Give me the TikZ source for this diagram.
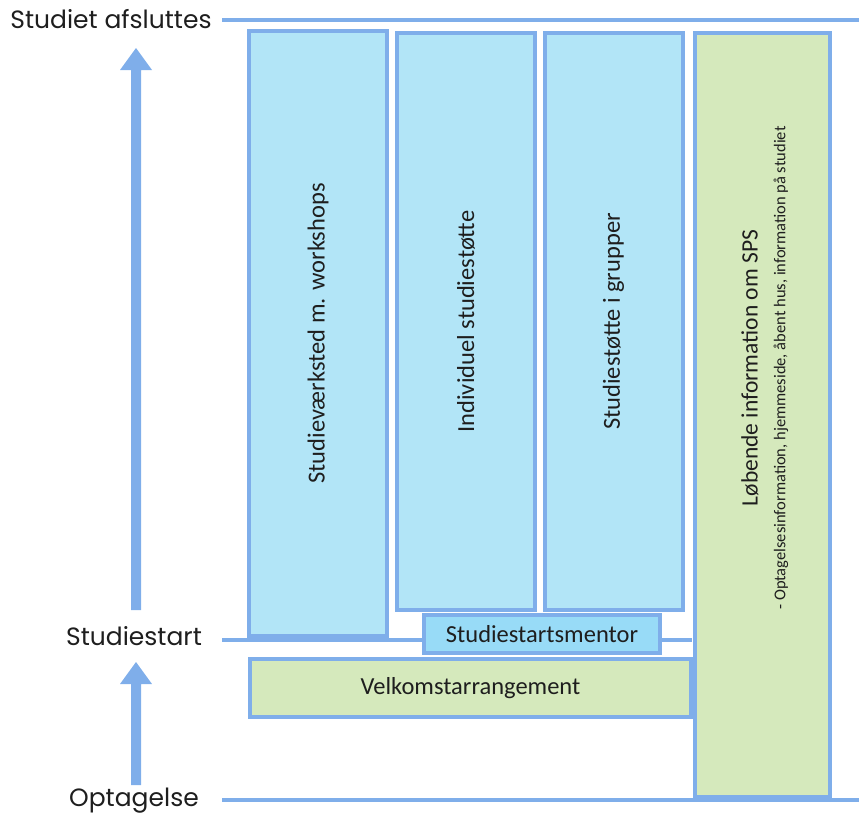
\documentclass[tikz,border=0pt]{standalone}
\usepackage{fontspec}
\setmainfont{Carlito}
\newfontfamily\labelfont{Poppins}
\definecolor{edgeblue}{RGB}{127,174,234}
\definecolor{fillblue}{RGB}{178,229,247}
\definecolor{mentorblue}{RGB}{152,219,247}
\definecolor{fillgreen}{RGB}{213,233,188}
\definecolor{txt}{RGB}{30,30,30}
\begin{document}
\begin{tikzpicture}[x=1pt,y=-1pt,
  box/.style={draw=edgeblue,line width=4pt,inner sep=0pt},
  bluebox/.style={box,fill=fillblue},
  greenbox/.style={box,fill=fillgreen},
  mentorbox/.style={box,fill=mentorblue},
  boxtext/.style={text=txt,font=\fontsize{24.5}{28}\selectfont,inner sep=0pt},
  vtext/.style={boxtext,rotate=90},
  timeline/.style={draw=edgeblue,line width=4.5pt},
  timelabel/.style={text=txt,font=\labelfont\fontsize{25}{29}\selectfont,inner sep=0pt},
  bigarrow/.style={fill=edgeblue,draw=none}
]
\useasboundingbox (0,0) rectangle (859,822);
% time lines
\coordinate (t1) at (222,20);  \coordinate (t2) at (859,20);
\coordinate (s1) at (222,640); \coordinate (s2) at (692,640);
\coordinate (o1) at (222,800); \coordinate (o2) at (859,800);
\draw[timeline] (t1) -- (t2);
\draw[timeline] (s1) -- (s2);
\draw[timeline] (o1) -- (o2);
% labels
\node[timelabel,anchor=base] (lend) at (111,28) {Studiet afsluttes};
\node[timelabel,anchor=base] (lstart) at (134,645) {Studiestart};
\node[timelabel,anchor=base] (lopt) at (134,806) {Optagelse};
% arrows
\fill[bigarrow] (131,610) -- (131,70) -- (120,70) -- (136,48) -- (152,70) -- (141,70) -- (141,610) -- cycle;
\fill[bigarrow] (131,785) -- (131,684) -- (120,684) -- (136,662) -- (152,684) -- (141,684) -- (141,785) -- cycle;
% boxes
\node[bluebox,minimum width=138pt,minimum height=605pt] (b1) at (318,333.5) {};
\node[bluebox,minimum width=138pt,minimum height=577pt] (b2) at (466,321.5) {};
\node[bluebox,minimum width=138pt,minimum height=577pt] (b3) at (613.5,321.5) {};
\node[greenbox,minimum width=135pt,minimum height=764pt] (b4) at (762.5,415) {};
\node[mentorbox,minimum width=236pt,minimum height=38pt] (m) at (542,634) {};
\node[greenbox,minimum width=441pt,minimum height=58pt] (v) at (470.5,688) {};
% texts
\node[vtext] (b1t) at (b1.center) {Studieværksted m. workshops};
\node[vtext] (b2t) at (b2.center) {Individuel studiestøtte};
\node[vtext] (b3t) at (b3.center) {Studiestøtte i grupper};
\node[boxtext] (mt) at (m.center) {Studiestartsmentor};
\node[boxtext] (vt) at (v.center) {Velkomstarrangement};
\node[vtext,font=\fontsize{23.5}{27}\selectfont] (b4t) at (750,368) {Løbende information om SPS};
\node[vtext,font=\fontsize{16.5}{19}\selectfont] (b4s) at (781,368) {- Optagelsesinformation, hjemmeside, åbent hus, information på studiet};
\end{tikzpicture}
\end{document}
